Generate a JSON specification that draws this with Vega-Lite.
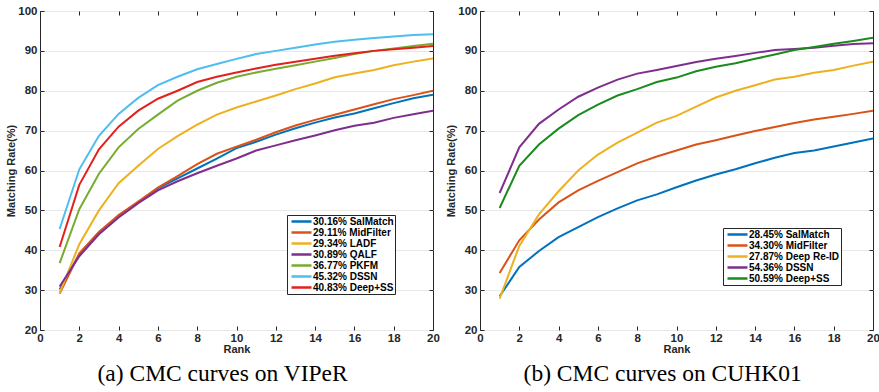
{
"$schema":"https://vega.github.io/schema/vega-lite/v6.json",
"padding":{"left":5,"top":4,"right":0,"bottom":0},
"spacing":5,
"datasets":{
"viper":[
{"m":"30.16% SalMatch","r":1,"v":30.16},{"m":"30.16% SalMatch","r":2,"v":39.0},{"m":"30.16% SalMatch","r":3,"v":44.5},{"m":"30.16% SalMatch","r":4,"v":48.5},{"m":"30.16% SalMatch","r":5,"v":52.0},{"m":"30.16% SalMatch","r":6,"v":55.5},{"m":"30.16% SalMatch","r":7,"v":58.0},{"m":"30.16% SalMatch","r":8,"v":60.5},{"m":"30.16% SalMatch","r":9,"v":63.0},{"m":"30.16% SalMatch","r":10,"v":65.6},{"m":"30.16% SalMatch","r":11,"v":67.2},{"m":"30.16% SalMatch","r":12,"v":69.0},{"m":"30.16% SalMatch","r":13,"v":70.6},{"m":"30.16% SalMatch","r":14,"v":72.0},{"m":"30.16% SalMatch","r":15,"v":73.3},{"m":"30.16% SalMatch","r":16,"v":74.3},{"m":"30.16% SalMatch","r":17,"v":75.6},{"m":"30.16% SalMatch","r":18,"v":76.9},{"m":"30.16% SalMatch","r":19,"v":78.1},{"m":"30.16% SalMatch","r":20,"v":79.0},
{"m":"29.11% MidFilter","r":1,"v":29.11},{"m":"29.11% MidFilter","r":2,"v":39.2},{"m":"29.11% MidFilter","r":3,"v":44.6},{"m":"29.11% MidFilter","r":4,"v":48.8},{"m":"29.11% MidFilter","r":5,"v":52.2},{"m":"29.11% MidFilter","r":6,"v":55.7},{"m":"29.11% MidFilter","r":7,"v":58.6},{"m":"29.11% MidFilter","r":8,"v":61.6},{"m":"29.11% MidFilter","r":9,"v":64.2},{"m":"29.11% MidFilter","r":10,"v":66.0},{"m":"29.11% MidFilter","r":11,"v":67.7},{"m":"29.11% MidFilter","r":12,"v":69.6},{"m":"29.11% MidFilter","r":13,"v":71.3},{"m":"29.11% MidFilter","r":14,"v":72.7},{"m":"29.11% MidFilter","r":15,"v":74.0},{"m":"29.11% MidFilter","r":16,"v":75.3},{"m":"29.11% MidFilter","r":17,"v":76.6},{"m":"29.11% MidFilter","r":18,"v":77.9},{"m":"29.11% MidFilter","r":19,"v":78.9},{"m":"29.11% MidFilter","r":20,"v":80.0},
{"m":"29.34% LADF","r":1,"v":29.34},{"m":"29.34% LADF","r":2,"v":41.5},{"m":"29.34% LADF","r":3,"v":50.0},{"m":"29.34% LADF","r":4,"v":56.8},{"m":"29.34% LADF","r":5,"v":61.2},{"m":"29.34% LADF","r":6,"v":65.4},{"m":"29.34% LADF","r":7,"v":68.6},{"m":"29.34% LADF","r":8,"v":71.5},{"m":"29.34% LADF","r":9,"v":74.0},{"m":"29.34% LADF","r":10,"v":75.8},{"m":"29.34% LADF","r":11,"v":77.3},{"m":"29.34% LADF","r":12,"v":78.8},{"m":"29.34% LADF","r":13,"v":80.4},{"m":"29.34% LADF","r":14,"v":81.8},{"m":"29.34% LADF","r":15,"v":83.4},{"m":"29.34% LADF","r":16,"v":84.3},{"m":"29.34% LADF","r":17,"v":85.2},{"m":"29.34% LADF","r":18,"v":86.4},{"m":"29.34% LADF","r":19,"v":87.3},{"m":"29.34% LADF","r":20,"v":88.1},
{"m":"30.89% QALF","r":1,"v":30.89},{"m":"30.89% QALF","r":2,"v":38.5},{"m":"30.89% QALF","r":3,"v":44.0},{"m":"30.89% QALF","r":4,"v":48.2},{"m":"30.89% QALF","r":5,"v":51.8},{"m":"30.89% QALF","r":6,"v":55.0},{"m":"30.89% QALF","r":7,"v":57.3},{"m":"30.89% QALF","r":8,"v":59.3},{"m":"30.89% QALF","r":9,"v":61.2},{"m":"30.89% QALF","r":10,"v":63.0},{"m":"30.89% QALF","r":11,"v":65.0},{"m":"30.89% QALF","r":12,"v":66.3},{"m":"30.89% QALF","r":13,"v":67.6},{"m":"30.89% QALF","r":14,"v":68.8},{"m":"30.89% QALF","r":15,"v":70.1},{"m":"30.89% QALF","r":16,"v":71.2},{"m":"30.89% QALF","r":17,"v":72.0},{"m":"30.89% QALF","r":18,"v":73.2},{"m":"30.89% QALF","r":19,"v":74.1},{"m":"30.89% QALF","r":20,"v":75.0},
{"m":"36.77% PKFM","r":1,"v":36.77},{"m":"36.77% PKFM","r":2,"v":50.3},{"m":"36.77% PKFM","r":3,"v":59.2},{"m":"36.77% PKFM","r":4,"v":65.8},{"m":"36.77% PKFM","r":5,"v":70.4},{"m":"36.77% PKFM","r":6,"v":74.0},{"m":"36.77% PKFM","r":7,"v":77.5},{"m":"36.77% PKFM","r":8,"v":80.0},{"m":"36.77% PKFM","r":9,"v":82.0},{"m":"36.77% PKFM","r":10,"v":83.5},{"m":"36.77% PKFM","r":11,"v":84.6},{"m":"36.77% PKFM","r":12,"v":85.5},{"m":"36.77% PKFM","r":13,"v":86.4},{"m":"36.77% PKFM","r":14,"v":87.3},{"m":"36.77% PKFM","r":15,"v":88.2},{"m":"36.77% PKFM","r":16,"v":89.2},{"m":"36.77% PKFM","r":17,"v":90.0},{"m":"36.77% PKFM","r":18,"v":90.6},{"m":"36.77% PKFM","r":19,"v":91.2},{"m":"36.77% PKFM","r":20,"v":91.8},
{"m":"45.32% DSSN","r":1,"v":45.32},{"m":"45.32% DSSN","r":2,"v":60.3},{"m":"45.32% DSSN","r":3,"v":68.7},{"m":"45.32% DSSN","r":4,"v":74.2},{"m":"45.32% DSSN","r":5,"v":78.2},{"m":"45.32% DSSN","r":6,"v":81.4},{"m":"45.32% DSSN","r":7,"v":83.5},{"m":"45.32% DSSN","r":8,"v":85.4},{"m":"45.32% DSSN","r":9,"v":86.7},{"m":"45.32% DSSN","r":10,"v":88.0},{"m":"45.32% DSSN","r":11,"v":89.2},{"m":"45.32% DSSN","r":12,"v":90.0},{"m":"45.32% DSSN","r":13,"v":90.8},{"m":"45.32% DSSN","r":14,"v":91.6},{"m":"45.32% DSSN","r":15,"v":92.3},{"m":"45.32% DSSN","r":16,"v":92.8},{"m":"45.32% DSSN","r":17,"v":93.2},{"m":"45.32% DSSN","r":18,"v":93.6},{"m":"45.32% DSSN","r":19,"v":94.0},{"m":"45.32% DSSN","r":20,"v":94.2},
{"m":"40.83% Deep+SS","r":1,"v":40.83},{"m":"40.83% Deep+SS","r":2,"v":56.4},{"m":"40.83% Deep+SS","r":3,"v":65.3},{"m":"40.83% Deep+SS","r":4,"v":71.0},{"m":"40.83% Deep+SS","r":5,"v":75.0},{"m":"40.83% Deep+SS","r":6,"v":78.0},{"m":"40.83% Deep+SS","r":7,"v":80.0},{"m":"40.83% Deep+SS","r":8,"v":82.2},{"m":"40.83% Deep+SS","r":9,"v":83.5},{"m":"40.83% Deep+SS","r":10,"v":84.6},{"m":"40.83% Deep+SS","r":11,"v":85.6},{"m":"40.83% Deep+SS","r":12,"v":86.5},{"m":"40.83% Deep+SS","r":13,"v":87.3},{"m":"40.83% Deep+SS","r":14,"v":88.0},{"m":"40.83% Deep+SS","r":15,"v":88.8},{"m":"40.83% Deep+SS","r":16,"v":89.4},{"m":"40.83% Deep+SS","r":17,"v":90.0},{"m":"40.83% Deep+SS","r":18,"v":90.4},{"m":"40.83% Deep+SS","r":19,"v":90.8},{"m":"40.83% Deep+SS","r":20,"v":91.2}
],
"cuhk":[
{"m":"28.45% SalMatch","r":1,"v":28.45},{"m":"28.45% SalMatch","r":2,"v":35.8},{"m":"28.45% SalMatch","r":3,"v":39.8},{"m":"28.45% SalMatch","r":4,"v":43.3},{"m":"28.45% SalMatch","r":5,"v":45.8},{"m":"28.45% SalMatch","r":6,"v":48.3},{"m":"28.45% SalMatch","r":7,"v":50.5},{"m":"28.45% SalMatch","r":8,"v":52.5},{"m":"28.45% SalMatch","r":9,"v":54.0},{"m":"28.45% SalMatch","r":10,"v":55.8},{"m":"28.45% SalMatch","r":11,"v":57.5},{"m":"28.45% SalMatch","r":12,"v":59.0},{"m":"28.45% SalMatch","r":13,"v":60.3},{"m":"28.45% SalMatch","r":14,"v":61.8},{"m":"28.45% SalMatch","r":15,"v":63.2},{"m":"28.45% SalMatch","r":16,"v":64.4},{"m":"28.45% SalMatch","r":17,"v":65.0},{"m":"28.45% SalMatch","r":18,"v":66.0},{"m":"28.45% SalMatch","r":19,"v":67.0},{"m":"28.45% SalMatch","r":20,"v":68.0},
{"m":"34.30% MidFilter","r":1,"v":34.3},{"m":"34.30% MidFilter","r":2,"v":42.5},{"m":"34.30% MidFilter","r":3,"v":47.7},{"m":"34.30% MidFilter","r":4,"v":52.0},{"m":"34.30% MidFilter","r":5,"v":55.0},{"m":"34.30% MidFilter","r":6,"v":57.4},{"m":"34.30% MidFilter","r":7,"v":59.6},{"m":"34.30% MidFilter","r":8,"v":61.8},{"m":"34.30% MidFilter","r":9,"v":63.5},{"m":"34.30% MidFilter","r":10,"v":65.0},{"m":"34.30% MidFilter","r":11,"v":66.5},{"m":"34.30% MidFilter","r":12,"v":67.6},{"m":"34.30% MidFilter","r":13,"v":68.8},{"m":"34.30% MidFilter","r":14,"v":69.9},{"m":"34.30% MidFilter","r":15,"v":70.9},{"m":"34.30% MidFilter","r":16,"v":71.9},{"m":"34.30% MidFilter","r":17,"v":72.8},{"m":"34.30% MidFilter","r":18,"v":73.5},{"m":"34.30% MidFilter","r":19,"v":74.2},{"m":"34.30% MidFilter","r":20,"v":75.0},
{"m":"27.87% Deep Re-ID","r":1,"v":27.87},{"m":"27.87% Deep Re-ID","r":2,"v":41.1},{"m":"27.87% Deep Re-ID","r":3,"v":49.0},{"m":"27.87% Deep Re-ID","r":4,"v":54.8},{"m":"27.87% Deep Re-ID","r":5,"v":60.0},{"m":"27.87% Deep Re-ID","r":6,"v":64.0},{"m":"27.87% Deep Re-ID","r":7,"v":67.0},{"m":"27.87% Deep Re-ID","r":8,"v":69.5},{"m":"27.87% Deep Re-ID","r":9,"v":72.0},{"m":"27.87% Deep Re-ID","r":10,"v":73.7},{"m":"27.87% Deep Re-ID","r":11,"v":76.0},{"m":"27.87% Deep Re-ID","r":12,"v":78.3},{"m":"27.87% Deep Re-ID","r":13,"v":80.0},{"m":"27.87% Deep Re-ID","r":14,"v":81.4},{"m":"27.87% Deep Re-ID","r":15,"v":82.8},{"m":"27.87% Deep Re-ID","r":16,"v":83.5},{"m":"27.87% Deep Re-ID","r":17,"v":84.5},{"m":"27.87% Deep Re-ID","r":18,"v":85.2},{"m":"27.87% Deep Re-ID","r":19,"v":86.3},{"m":"27.87% Deep Re-ID","r":20,"v":87.3},
{"m":"54.36% DSSN","r":1,"v":54.36},{"m":"54.36% DSSN","r":2,"v":65.8},{"m":"54.36% DSSN","r":3,"v":71.7},{"m":"54.36% DSSN","r":4,"v":75.3},{"m":"54.36% DSSN","r":5,"v":78.5},{"m":"54.36% DSSN","r":6,"v":80.8},{"m":"54.36% DSSN","r":7,"v":82.8},{"m":"54.36% DSSN","r":8,"v":84.3},{"m":"54.36% DSSN","r":9,"v":85.2},{"m":"54.36% DSSN","r":10,"v":86.2},{"m":"54.36% DSSN","r":11,"v":87.2},{"m":"54.36% DSSN","r":12,"v":88.0},{"m":"54.36% DSSN","r":13,"v":88.7},{"m":"54.36% DSSN","r":14,"v":89.5},{"m":"54.36% DSSN","r":15,"v":90.2},{"m":"54.36% DSSN","r":16,"v":90.5},{"m":"54.36% DSSN","r":17,"v":90.8},{"m":"54.36% DSSN","r":18,"v":91.3},{"m":"54.36% DSSN","r":19,"v":91.7},{"m":"54.36% DSSN","r":20,"v":91.9},
{"m":"50.59% Deep+SS","r":1,"v":50.59},{"m":"50.59% Deep+SS","r":2,"v":61.2},{"m":"50.59% Deep+SS","r":3,"v":66.5},{"m":"50.59% Deep+SS","r":4,"v":70.5},{"m":"50.59% Deep+SS","r":5,"v":73.9},{"m":"50.59% Deep+SS","r":6,"v":76.5},{"m":"50.59% Deep+SS","r":7,"v":78.8},{"m":"50.59% Deep+SS","r":8,"v":80.4},{"m":"50.59% Deep+SS","r":9,"v":82.2},{"m":"50.59% Deep+SS","r":10,"v":83.3},{"m":"50.59% Deep+SS","r":11,"v":84.9},{"m":"50.59% Deep+SS","r":12,"v":86.0},{"m":"50.59% Deep+SS","r":13,"v":86.9},{"m":"50.59% Deep+SS","r":14,"v":88.0},{"m":"50.59% Deep+SS","r":15,"v":89.1},{"m":"50.59% Deep+SS","r":16,"v":90.2},{"m":"50.59% Deep+SS","r":17,"v":91.0},{"m":"50.59% Deep+SS","r":18,"v":91.8},{"m":"50.59% Deep+SS","r":19,"v":92.5},{"m":"50.59% Deep+SS","r":20,"v":93.3}
]
},
"hconcat":[
{
"width":393,"height":319,
"data":{"name":"viper"},
"title":{"text":"(a)  CMC curves on VIPeR"},
"layer":[
{"mark":{"type":"line","strokeWidth":2,"clip":true},
"encoding":{
"x":{"field":"r","type":"quantitative","scale":{"domain":[0,20],"nice":false},"axis":{"values":[0,2,4,6,8,10,12,14,16,18,20],"title":"Rank","grid":false,"labelFlush":false}},
"y":{"field":"v","type":"quantitative","scale":{"domain":[20,100],"nice":false},"axis":{"values":[20,30,40,50,60,70,80,90,100],"title":"Matching Rate(%)","grid":true}},
"color":{"field":"m","type":"nominal","scale":{"domain":["30.16% SalMatch","29.11% MidFilter","29.34% LADF","30.89% QALF","36.77% PKFM","45.32% DSSN","40.83% Deep+SS"],"range":["#0072BD","#D95319","#EDB120","#7E2F8E","#77AC30","#4DBEEE","#E3211C"]},
"legend":{"orient":"none","legendX":247,"legendY":204}}
}},
{"mark":{"type":"line","opacity":0},
"encoding":{
"x":{"field":"r","type":"quantitative","axis":{"orient":"top","values":[0,2,4,6,8,10,12,14,16,18,20],"labels":false,"title":null,"grid":false}},
"y":{"field":"v","type":"quantitative","axis":{"orient":"right","values":[20,30,40,50,60,70,80,90,100],"labels":false,"title":null,"grid":false}}
}}
],
"resolve":{"axis":{"x":"independent","y":"independent"}}
},
{
"width":393,"height":319,
"data":{"name":"cuhk"},
"title":{"text":"(b)  CMC curves on CUHK01"},
"layer":[
{"mark":{"type":"line","strokeWidth":2,"clip":true},
"encoding":{
"x":{"field":"r","type":"quantitative","scale":{"domain":[0,20],"nice":false},"axis":{"values":[0,2,4,6,8,10,12,14,16,18,20],"title":"Rank","grid":false,"labelFlush":false}},
"y":{"field":"v","type":"quantitative","scale":{"domain":[20,100],"nice":false},"axis":{"values":[20,30,40,50,60,70,80,90,100],"title":"Matching Rate(%)","grid":true}},
"color":{"field":"m","type":"nominal","scale":{"domain":["28.45% SalMatch","34.30% MidFilter","27.87% Deep Re-ID","54.36% DSSN","50.59% Deep+SS"],"range":["#0072BD","#D95319","#EDB120","#7E2F8E","#1B8A1F"]},
"legend":{"orient":"none","legendX":243,"legendY":217}}
}},
{"mark":{"type":"line","opacity":0},
"encoding":{
"x":{"field":"r","type":"quantitative","axis":{"orient":"top","values":[0,2,4,6,8,10,12,14,16,18,20],"labels":false,"title":null,"grid":false}},
"y":{"field":"v","type":"quantitative","axis":{"orient":"right","values":[20,30,40,50,60,70,80,90,100],"labels":false,"title":null,"grid":false}}
}}
],
"resolve":{"axis":{"x":"independent","y":"independent"}}
}
],
"resolve":{"scale":{"color":"independent"}},
"config":{
"font":"Liberation Sans",
"background":"white",
"view":{"stroke":"#262626","strokeWidth":1},
"axis":{"domain":false,"minExtent":0,"labelFont":"Liberation Sans","labelFontWeight":"bold","labelFontSize":11.5,"labelColor":"#262626","titleFont":"Liberation Sans","titleFontWeight":"bold","titleFontSize":11,"titleColor":"#262626","tickColor":"#262626","tickSize":-4,"gridColor":"#E8E8E8","gridWidth":1},
"axisX":{"labelPadding":6,"titlePadding":0,"minExtent":0},
"axisY":{"labelPadding":7,"titlePadding":1,"minExtent":0},
"legend":{"title":null,"strokeColor":"#262626","fillColor":"white","padding":1,"symbolType":"M-0.5,0H4.5","symbolSize":64,"symbolStrokeWidth":2.5,"labelFont":"Liberation Sans","labelFontWeight":"bold","labelFontSize":10,"labelColor":"black","rowPadding":-2,"labelOffset":14,"cornerRadius":0},
"title":{"orient":"bottom","font":"Liberation Serif","fontSize":23.5,"fontWeight":"normal","color":"black","frame":"bounds","anchor":"middle","offset":7}
}
}
